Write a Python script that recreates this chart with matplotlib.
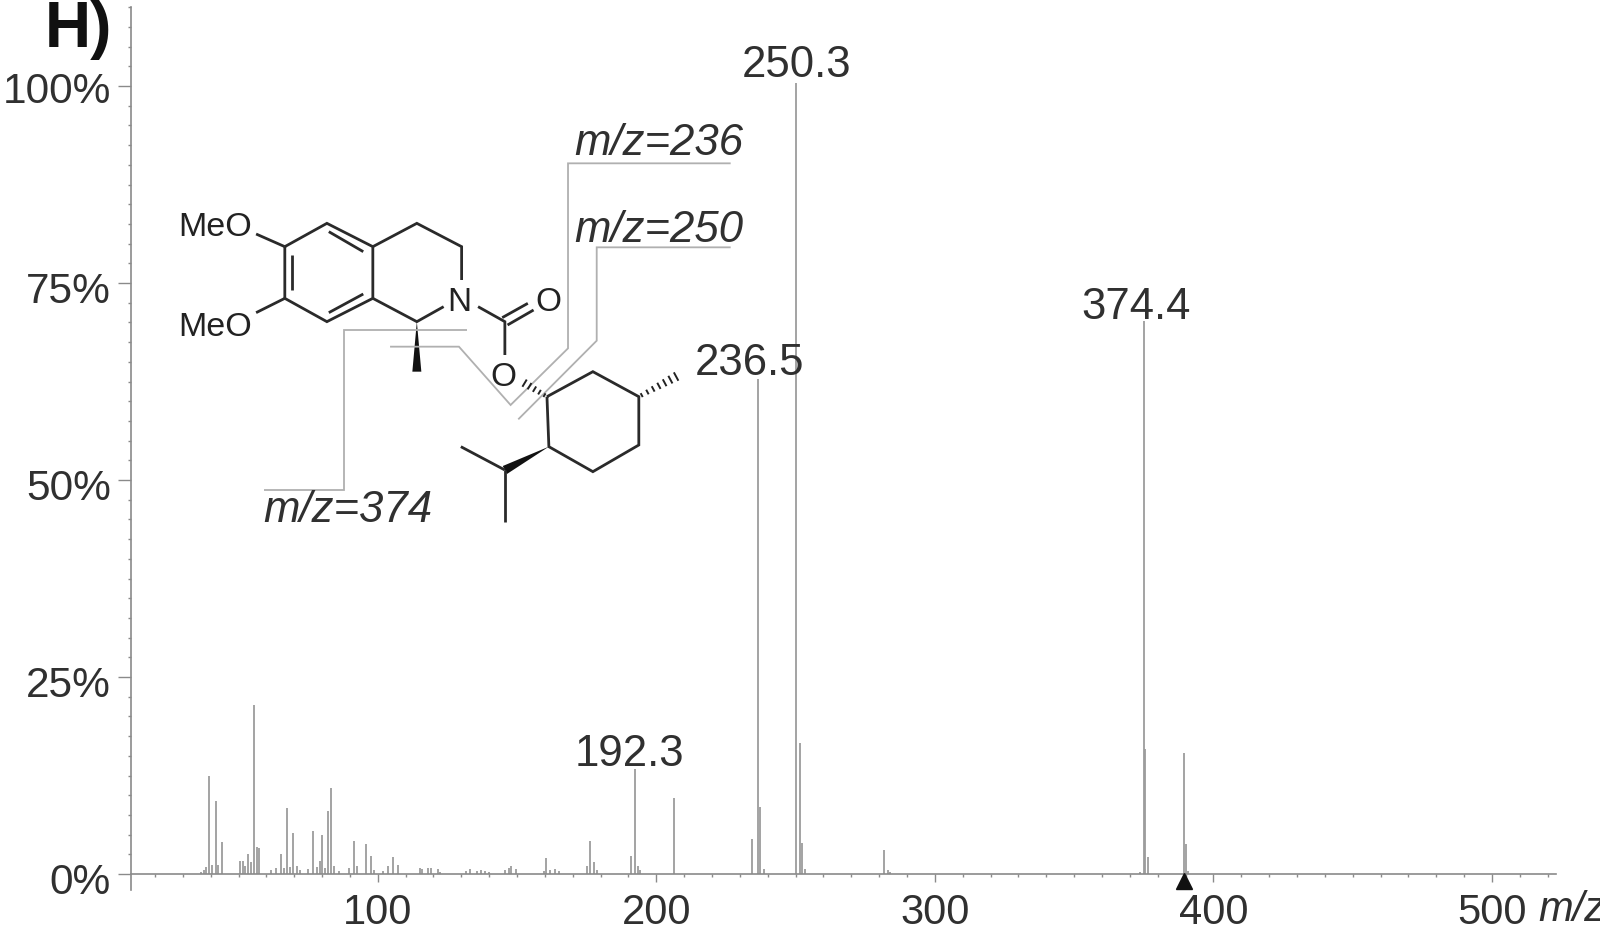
import matplotlib
matplotlib.use("Agg")
import matplotlib.pyplot as plt
from matplotlib.ticker import MultipleLocator, FuncFormatter
from matplotlib.transforms import ScaledTranslation
from matplotlib.patches import Polygon

# ---------- data ----------
mz_low = [36.5, 37.5, 38.5, 39.5, 40.5, 41.9, 42.8, 43.9, 50.5, 51.5, 52.4, 53.4, 54.6, 55.6, 56.5, 57.5,
          61.5, 63.5, 65.2, 66.3, 67.5, 68.5, 69.5, 70.9, 72.0, 75.0, 76.9, 78.0, 79.2, 79.9, 81.0,
          82.2, 83.3, 84.4, 86.0, 89.8, 91.5, 92.6, 95.8, 97.6, 98.6, 102.0, 103.5, 105.5, 107.4]
h_low = [0.3, 0.5, 0.9, 12.4, 1.2, 9.3, 1.2, 4.1, 1.7, 1.7, 1.0, 2.5, 1.5, 21.4, 3.4, 3.3,
         0.5, 0.8, 2.6, 0.8, 8.4, 0.9, 5.2, 1.0, 0.5, 0.6, 5.4, 0.9, 1.7, 4.9, 0.8,
         8.0, 10.9, 1.0, 0.4, 0.7, 4.2, 1.0, 3.8, 2.3, 0.5, 0.4, 1.0, 2.1, 1.2]
mz_mid = [115.0, 116.0, 118.0, 119.0, 121.5, 122.5, 131.5, 133.0, 135.5, 137.0, 138.5, 140.0,
          145.5, 147.0, 148.0, 149.5, 159.5, 160.5, 162.0, 163.5, 165.0, 175.0, 176.3, 177.6, 178.6]
h_mid = [0.8, 0.6, 0.8, 0.7, 0.6, 0.3, 0.4, 0.6, 0.4, 0.5, 0.4, 0.3,
         0.5, 0.8, 1.0, 0.6, 0.4, 2.0, 0.5, 0.6, 0.4, 1.0, 4.2, 1.5, 0.5]
mz_high = [190.9, 192.3, 193.3, 194.2, 206.2, 234.5, 236.5, 237.4, 238.6, 250.3, 251.6, 252.3, 253.5,
           281.7, 283.0, 284.0, 373.8, 375.0, 375.5, 376.6, 389.5, 390.0, 391.0]
h_high = [2.3, 13.3, 1.0, 0.5, 9.7, 4.4, 62.8, 8.5, 0.6, 100.4, 16.6, 3.9, 0.6,
          3.0, 0.5, 0.3, 0.3, 70.2, 15.9, 2.1, 15.4, 3.8, 0.4]

peak_labels = ["192.3", "236.5", "250.3", "374.4"]
peak_mz = [192.3, 236.5, 250.3, 375.0]
peak_h = [13.3, 62.8, 100.4, 70.2]
label_dx = [-5, -8, 0, -8]
label_dy = [3, 4, 6, 2]
precursor_mz = [389.5]
y_major = [0, 25, 50, 75, 100]
x_major = [100, 200, 300, 400, 500]

GRAY = "#9c9c9c"
AXIS = "#8a8a8a"
TEXT = "#303030"
plt.rcParams["font.family"] = ["Liberation Sans", "DejaVu Sans"]

# ---------- chart ----------
fig = plt.figure(figsize=(16, 9.25), dpi=100)
W, H = 1600, 925
ax = fig.add_axes([131 / W, 35 / H, (1556 - 131) / W, (890 - 7) / H])
ax.set_xlim(11.4, 523.0)
ax.set_ylim(-2.03, 110.03)
ax.patch.set_alpha(0)

for xs, hs in ((mz_low, h_low), (mz_mid, h_mid), (mz_high, h_high)):
    ax.vlines(xs, 0, hs, colors=GRAY, linewidth=1.3, zorder=2)

for sp in ("top", "right"):
    ax.spines[sp].set_visible(False)
ax.spines["bottom"].set_position(("data", 0))
for sp in ("left", "bottom"):
    ax.spines[sp].set_color(AXIS)
    ax.spines[sp].set_linewidth(1.2)

ax.set_xticks(x_major)
ax.set_yticks(y_major)
ax.xaxis.set_minor_locator(MultipleLocator(10))
ax.yaxis.set_minor_locator(MultipleLocator(2.5))
ax.yaxis.set_major_formatter(FuncFormatter(lambda v, p: f"{v:.0f}%"))
ax.tick_params(axis="x", which="major", length=6, width=1, color=AXIS, labelsize=30, labelcolor=TEXT, pad=7.5)
ax.tick_params(axis="x", which="minor", length=2.5, width=1, color=AXIS)
ax.tick_params(axis="y", which="major", length=9.5, width=1, color=AXIS, labelsize=30.5, labelcolor=TEXT, pad=5)
ax.tick_params(axis="y", which="minor", length=2.5, width=1, color=AXIS)
labs = ax.get_yticklabels()
for i, lab in enumerate(labs):
    down = 1 if i == len(labs) - 1 else 3
    lab.set_transform(lab.get_transform() + ScaledTranslation(0, -down / 72, fig.dpi_scale_trans))

for name, x, y, dx, dy in zip(peak_labels, peak_mz, peak_h, label_dx, label_dy):
    ax.annotate(name, (x, y), xytext=(dx * 0.72, dy * 0.72), textcoords="offset points",
                ha="center", va="baseline", fontsize=31.5, color=TEXT, annotation_clip=False)

ax.plot(precursor_mz, [-0.95] * len(precursor_mz), marker="^", color="#111111", markersize=12,
        linestyle="none", clip_on=False, zorder=4)

# ---------- structure overlay, in zoomed-crop pixel coordinates ----------
ov = fig.add_axes([0, 0, 1, 1], zorder=5)
ov.set_xlim(0, W)
ov.set_ylim(H, 0)
ov.axis("off")
ov.patch.set_alpha(0)


def P(x, y):
    return 170 + x / 2.613, 130 + y / 3


def path(points, color="#2a2a2a", lw=2.0):
    xs, ys = zip(*[P(*p) for p in points])
    ov.plot(xs, ys, color=color, linewidth=lw, solid_joinstyle="miter", solid_capstyle="butt")


def wedge(a, b, half):
    ax_, ay_ = P(*a)
    bx, by = P(*b)
    dx, dy = bx - ax_, by - ay_
    n = (dx * dx + dy * dy) ** 0.5
    nx, ny = -dy / n * half, dx / n * half
    ov.add_patch(Polygon([(ax_, ay_), (bx + nx, by + ny), (bx - nx, by - ny)], closed=True,
                         facecolor="#111111", edgecolor="none"))


def hashed(a, b, n, half):
    ax_, ay_ = P(*a)
    bx, by = P(*b)
    dx, dy = bx - ax_, by - ay_
    L = (dx * dx + dy * dy) ** 0.5
    nx, ny = -dy / L, dx / L
    for i in range(n):
        t = (i + 0.5) / n
        w = half * (0.25 + 0.75 * t)
        cx, cy = ax_ + dx * t, ay_ + dy * t
        ov.plot([cx - nx * w, cx + nx * w], [cy - ny * w, cy + ny * w], color="#222222", linewidth=1.4)


# annotation leaders
path([(1465, 100), (1040, 100), (1040, 655), (890, 825), (755, 650), (575, 650)], color="#b0b0b0", lw=1.3)
path([(1465, 352), (1115, 352), (1115, 632), (910, 868)], color="#b0b0b0", lw=1.3)
path([(775, 600), (455, 600), (455, 1080), (245, 1080)], color="#b0b0b0", lw=1.3)

# isoquinoline
path([(300, 350), (410, 280), (530, 350), (530, 505), (410, 575), (300, 505), (300, 350)])
path([(318, 375), (318, 480)])
path([(415, 305), (505, 365)])
path([(415, 548), (505, 492)])
path([(225, 312), (300, 350)])
path([(225, 548), (300, 505)])
path([(530, 350), (645, 280), (762, 350), (762, 450)])
path([(530, 505), (645, 575), (715, 530)])
wedge((645, 575), (645, 725), 4.5)
# carbamate
path([(805, 530), (875, 575), (875, 675)])
path([(868, 563), (935, 520)])
path([(882, 585), (950, 540)])
# menthyl
path([(985, 800), (1105, 725), (1225, 800), (1225, 945), (1105, 1025), (990, 950), (985, 800)])
hashed((985, 800), (920, 755), 5, 3.5)
hashed((1225, 800), (1330, 735), 7, 4)
wedge((990, 950), (875, 1020), 4.5)
path([(875, 1020), (760, 950)])
path([(875, 1020), (875, 1175)])

for s, x, y in (("MeO", 215, 227), ("MeO", 215, 328)):
    ov.text(x, y, s, fontsize=24.5, color="#222222", ha="center", va="center")
for s, (zx, zy) in (("N", (757, 518)), ("O", (990, 518)), ("O", (872, 743))):
    x, y = P(zx, zy)
    ov.text(x, y, s, fontsize=24, color="#222222", ha="center", va="center")

for num, x, y in (("236", 659, 155), ("250", 659, 242), ("374", 348, 522)):
    ov.text(x, y, f"m/z={num}", fontsize=31.5, style="italic", color=TEXT, ha="center", va="baseline")

ov.text(1538, 921, "m/z", fontsize=30, style="italic", color=TEXT, ha="left", va="baseline", clip_on=True)
ov.text(45, 47, "H)", fontsize=46, color="#111111", ha="left", va="baseline", weight="bold",
        family=["Liberation Sans Narrow", "Liberation Sans"], clip_on=True)

fig.savefig("out.png", dpi=100, facecolor="white")
